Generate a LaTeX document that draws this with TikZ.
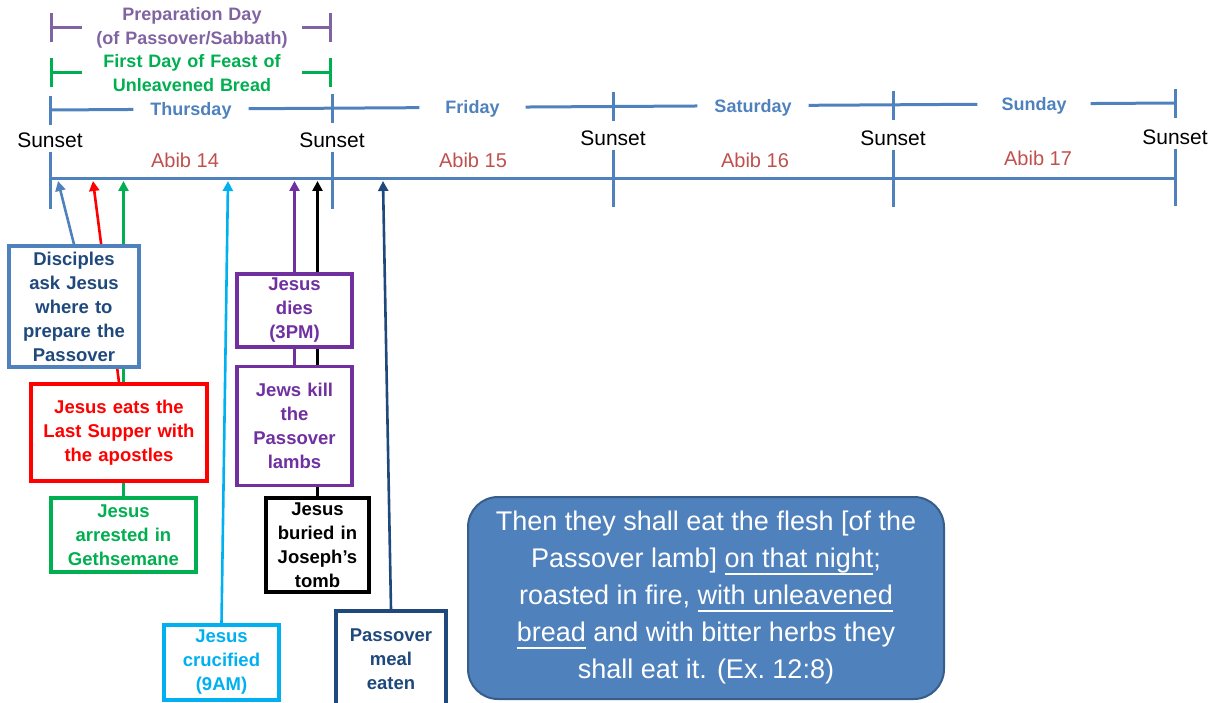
\documentclass[tikz,border=0pt]{standalone}
\usepackage{fontspec}
\setmainfont{Liberation Sans}
\usetikzlibrary{arrows.meta,positioning,calc,backgrounds}
\definecolor{steel}{HTML}{4F81BD}
\definecolor{navy}{HTML}{1F497D}
\definecolor{abibred}{HTML}{C0504D}
\definecolor{evred}{HTML}{FF0000}
\definecolor{evgreen}{HTML}{00B050}
\definecolor{evpurple}{HTML}{7030A0}
\definecolor{prepviolet}{HTML}{8064A2}
\definecolor{evcyan}{HTML}{00B0F0}
\definecolor{quoteedge}{HTML}{385D8A}
\newcommand{\ulx}[1]{\setbox0=\hbox{#1}\leavevmode\rlap{\rule[-7pt]{\wd0}{1.6pt}}\box0\relax}
\tikzset{
  axisline/.style={draw=steel,line width=3pt},
  daylabel/.style={text=steel,font=\fontsize{18}{22}\selectfont\bfseries,inner xsep=17pt,inner ysep=0pt,text height=13pt,text depth=0pt},
  sunsetlabel/.style={font=\fontsize{21}{24}\selectfont,inner sep=0pt},
  abiblabel/.style={text=abibred,font=\fontsize{20}{24}\selectfont,inner sep=0pt},
  spanlabel/.style={font=\fontsize{18}{23.5}\selectfont\bfseries,text width=220pt,align=center,inner sep=0pt},
  spanline/.style={line width=3pt,-{Bar[width=29pt]}},
  eventbox/.style={draw,line width=3.4pt,fill=white,inner sep=0pt,align=center,font=\fontsize{18.5}{24}\selectfont\bfseries},
  eventlink/.style={line width=2.6pt,-{Triangle[length=10pt,width=10pt]}},
  quotebox/.style={draw=quoteedge,line width=2pt,fill=steel,rounded corners=30pt,text=white,align=center,inner sep=0pt,minimum width=476pt,minimum height=202pt,font=\fontsize{27}{37}\selectfont}
}
\begin{document}
\begin{tikzpicture}[x=1pt,y=-1pt]
  \useasboundingbox (0,0) rectangle (1217,703);
  \clip (0,0) rectangle (1217,703);
  % spans over the first day
  \node[spanlabel,text=prepviolet] (prep) at (192,28) {Preparation Day\\(of Passover/Sabbath)};
  \draw[spanline,prepviolet] (prep.west) -- ++(-32,0);
  \draw[spanline,prepviolet] (prep.east) -- ++(30,0);
  \node[spanlabel,text=evgreen] (feast) at (192,73) {First Day of Feast of\\Unleavened Bread};
  \draw[spanline,evgreen] (feast.west) -- ++(-32,0);
  \draw[spanline,evgreen] (feast.east) -- ++(30,0);
  % days
  \coordinate (d0) at (50,110);
  \coordinate (d1) at (332,108.2);
  \coordinate (d2) at (613,106.5);
  \coordinate (d3) at (893,104.8);
  \coordinate (d4) at (1175,103);
  \node[daylabel] (dthu) at ($(d0)!0.5!(d1)$) {Thursday};
  \node[daylabel,inner xsep=26pt] (dfri) at ($(d1)!0.5!(d2)$) {Friday};
  \node[daylabel] (dsat) at ($(d2)!0.5!(d3)$) {Saturday};
  \node[daylabel,inner xsep=24pt] (dsun) at ($(d3)!0.5!(d4)$) {Sunday};
  \draw[axisline] (d0) -- (dthu) -- (d1) -- (dfri) -- (d2) -- (dsat) -- (d3) -- (dsun) -- (d4);
  \foreach \i in {0,...,4}
    \draw[axisline] ($(d\i)+(0,-14)$) -- ($(d\i)+(0,15)$);
  % sunsets and dates
  \foreach \x/\y/\n in {50/140/0,332/140/1,613/138/2,893/138/3,1175/137/4} {
    \node[sunsetlabel] (sunset\n) at (\x,\y) {Sunset};
    \draw[axisline] ($(sunset\n.south)+(0,4)$) -- ++(0,57);
  }
  \coordinate (axL) at (50,179);
  \coordinate (axR) at (1175,179);
  \draw[axisline] (axL) -- (axR);
  \node[abiblabel] (abib14) at (185,160) {Abib 14};
  \node[abiblabel] (abib15) at (473,160) {Abib 15};
  \node[abiblabel] (abib16) at (755,160) {Abib 16};
  \node[abiblabel] (abib17) at (1038,158) {Abib 17};
  % events
  \node[eventbox,draw=steel,text=navy,text width=130pt,minimum height=121pt] (ask) at (74,306.5) {Disciples\\ask Jesus\\where to\\prepare the\\Passover};
  \node[eventbox,draw=evred,text=evred,text width=176pt,minimum height=97pt] (supper) at (119,432.5) {Jesus eats the\\Last Supper with\\the apostles};
  \node[eventbox,draw=evgreen,text=evgreen,text width=145pt,minimum height=74pt] (arrest) at (123.5,535) {Jesus\\arrested in\\Gethsemane};
  \node[eventbox,draw=evpurple,text=evpurple,text width=115pt,minimum height=73pt] (dies) at (294.5,310.5) {Jesus\\dies\\(3PM)};
  \node[eventbox,draw=evpurple,text=evpurple,text width=115pt,minimum height=119pt,below=16pt of dies] (kill) {Jews kill\\the\\Passover\\lambs};
  \node[eventbox,draw=black,text=black,line width=3.8pt,text width=103pt,minimum height=94pt] (buried) at (317.5,545) {Jesus\\buried in\\Joseph's\\tomb};
  \node[eventbox,draw=evcyan,text=evcyan,text width=115pt,minimum height=75pt] (crucify) at (221.5,662.5) {Jesus\\crucified\\(9AM)};
  \node[eventbox,draw=navy,text=navy,text width=110pt,minimum height=96pt] (meal) at (391,659) {Passover\\meal\\eaten};
  \node[quotebox] (quote) at (706,598) {Then they shall eat the flesh [of the\\Passover lamb] \ulx{on that night};\\roasted in fire, \ulx{with unleavened}\\\ulx{bread} and with bitter herbs they\\shall eat it. (Ex.~12:8)};
  % links to the time line
  \coordinate (axhit) at (0,181);
  \coordinate (askhit) at (58,181);
  \coordinate (supperhit) at (93,181);
  \coordinate (crucifyhit) at (228,181);
  \coordinate (mealhit) at (383,181);
  \begin{scope}[on background layer]
    \draw[eventlink,steel] (ask.north) -- (askhit);
    \draw[eventlink,evred] (supper.north) -- (supperhit);
    \draw[eventlink,evgreen] (arrest.north) -- (arrest.north |- axhit);
    \draw[eventlink,evcyan] (crucify.north) -- (crucifyhit);
    \draw[eventlink,evpurple] (dies.north) -- (dies.north |- axhit);
    \draw[line width=2.6pt,evpurple] (dies.south) -- (kill.north);
    \draw[eventlink,black] (buried.north) -- (buried.north |- axhit);
    \draw[eventlink,navy] (meal.north) -- (mealhit);
  \end{scope}
\end{tikzpicture}
\end{document}
